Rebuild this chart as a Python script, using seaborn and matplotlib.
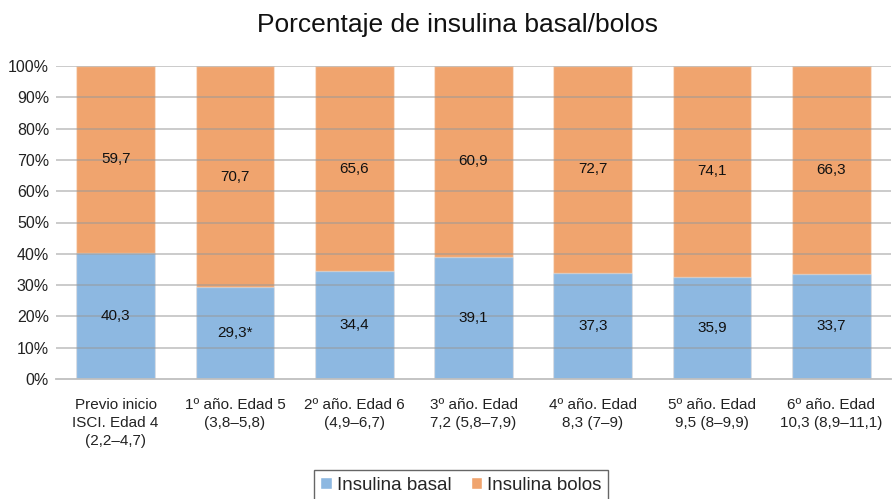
import matplotlib
matplotlib.use("Agg")
import matplotlib.pyplot as plt
import seaborn as sns
import pandas as pd
import numpy as np
from matplotlib.patches import Patch

categories = [
    "Previo inicio\nISCI. Edad 4\n(2,2–4,7)",
    "1º año. Edad 5\n(3,8–5,8)",
    "2º año. Edad 6\n(4,9–6,7)",
    "3º año. Edad\n7,2 (5,8–7,9)",
    "4º año. Edad\n8,3 (7–9)",
    "5º año. Edad\n9,5 (8–9,9)",
    "6º año. Edad\n10,3 (8,9–11,1)",
]
basal = [40.3, 29.3, 34.4, 39.1, 37.3, 35.9, 33.7]
bolos = [59.7, 70.7, 65.6, 60.9, 72.7, 74.1, 66.3]
basal_marks = ["", "*", "", "", "", "", ""]
yticks = [0, 10, 20, 30, 40, 50, 60, 70, 80, 90, 100]

blue = "#8db8e1"
orange = "#f0a46e"

sns.set_theme(style="white")
plt.rcParams['font.family'] = ['Liberation Sans', 'DejaVu Sans']

df = pd.DataFrame({"cat": categories, "basal": basal, "bolos": bolos})
total = df["basal"] + df["bolos"]
df["basal_pct"] = df["basal"] / total * 100
df["top"] = 100.0

fig = plt.figure(figsize=(8.93, 4.99), dpi=100)
ax = fig.add_axes([56 / 893, 1 - 379 / 499, (891 - 56) / 893, (379 - 66) / 499])

sns.barplot(data=df, x="cat", y="top", color=orange, width=0.66, ax=ax,
            saturation=1, edgecolor=(1, 1, 1, 0.35), linewidth=1)
sns.barplot(data=df, x="cat", y="basal_pct", color=blue, width=0.66, ax=ax,
            saturation=1, edgecolor=(1, 1, 1, 0.35), linewidth=1)

ax.set_ylim(0, 100)
ax.set_xlim(-0.5, len(categories) - 0.5)
ax.set_yticks(yticks)
ax.set_yticklabels([f"{v}%" for v in yticks], fontsize=11.5, color="#222222")
ax.tick_params(axis="x", labelsize=11, colors="#222222", length=0, pad=14)
ax.tick_params(axis="y", length=0, pad=5)
for lbl in ax.get_xticklabels():
    lbl.set_linespacing(1.35)
ax.set_xlabel("")
ax.set_ylabel("")
for s in ["left", "right", "top"]:
    ax.spines[s].set_visible(False)
ax.spines["bottom"].set_color("#bfbfbf")
ax.spines["bottom"].set_linewidth(1.3)
ax.spines["bottom"].set_zorder(5)

for v in yticks[1:]:
    ax.axhline(v, color="#999999", lw=1.3, alpha=0.55, zorder=4)

for i, (b, o, bp, m) in enumerate(zip(basal, bolos, df["basal_pct"], basal_marks)):
    ax.text(i, bp / 2, f"{b:.1f}".replace(".", ",") + m, ha="center", va="center",
            fontsize=11, color="#111111", zorder=6)
    ax.text(i, bp + (100 - bp) / 2, f"{o:.1f}".replace(".", ","), ha="center",
            va="center", fontsize=11, color="#111111", zorder=6)

fig.text(458 / 893, 1 - 25 / 499, "Porcentaje de insulina basal/bolos",
         ha="center", va="center", fontsize=19, color="#111111")

handles = [Patch(facecolor=blue, label="Insulina basal"),
           Patch(facecolor=orange, label="Insulina bolos")]
leg = fig.legend(handles=handles, loc="upper center",
                 bbox_to_anchor=(461 / 893, 1 - 461 / 499), ncol=2,
                 fontsize=13.5, frameon=True, fancybox=False,
                 handlelength=0.6, handleheight=0.6, handletextpad=0.3,
                 columnspacing=1.0, borderpad=0.35)
leg.get_frame().set_edgecolor("#404040")
leg.get_frame().set_linewidth(1.0)

fig.savefig("out.png", dpi=100)
